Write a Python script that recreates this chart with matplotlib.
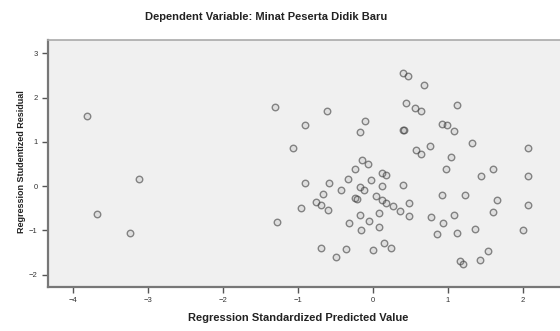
import numpy as np
import matplotlib.pyplot as plt

plt.rcParams['font.family'] = ['Liberation Sans', 'DejaVu Sans']

# predicted (standardized) values and studentized residuals
pred = [-3.81, -3.12, -3.67, -3.23,
        -1.30, -0.61, -0.90, -1.06, -0.10, -0.17, 0.40, 0.47, 0.68, 0.44,
        0.56, 0.64, 1.12, 0.41, 0.42, 0.93, 0.99, 1.08, 1.32, 0.58,
        0.64, 0.76, 2.07, 1.04, 0.98, 1.61, 1.45, 2.07, -0.14, -0.06,
        -0.24, 0.13, 0.18, -0.90, -0.58, -0.33, -0.02, 0.40, -0.66, -0.42,
        -0.17, -0.12, 0.12, -0.24, -0.21, -0.76, -0.69, -0.60, -0.95, 0.05,
        0.12, 0.18, 0.27, 0.36, 0.48, 0.48, 0.93, 1.23, 1.66, 2.07,
        1.60, 0.78, 1.08, 0.94, -1.27, -0.17, 0.09, -0.31, -0.05, -0.15,
        0.09, 0.86, 1.13, 1.36, 2.00, -0.69, -0.49, -0.35, 0.00, 0.15,
        0.25, 1.54, 1.17, 1.21, 1.43]
resid = [1.58, 0.15, -0.62, -1.07,
         1.78, 1.70, 1.38, 0.87, 1.47, 1.23, 2.55, 2.49, 2.29, 1.88,
         1.76, 1.70, 1.83, 1.26, 1.27, 1.40, 1.37, 1.25, 0.98, 0.81,
         0.73, 0.91, 0.87, 0.66, 0.38, 0.38, 0.23, 0.23, 0.59, 0.49,
         0.38, 0.30, 0.25, 0.08, 0.08, 0.15, 0.14, 0.02, -0.17, -0.09,
         -0.02, -0.09, 0.00, -0.26, -0.30, -0.35, -0.42, -0.54, -0.49, -0.23,
         -0.32, -0.38, -0.45, -0.56, -0.38, -0.67, -0.20, -0.20, -0.32, -0.42,
         -0.58, -0.70, -0.66, -0.84, -0.82, -0.65, -0.60, -0.83, -0.79, -0.99,
         -0.92, -1.09, -1.05, -0.98, -0.99, -1.40, -1.60, -1.43, -1.45, -1.29,
         -1.41, -1.46, -1.70, -1.77, -1.67]

xticks = [-4, -3, -2, -1, 0, 1, 2]
yticks = [-2, -1, 0, 1, 2, 3]

fig = plt.figure(figsize=(5.6, 3.31), dpi=100)
ax = fig.add_axes([0.0857, 0.133, 0.95, 0.746])
ax.set_facecolor('#f0f0f0')

ax.scatter(pred, resid, s=22, facecolors=(0.5, 0.5, 0.5, 0.15),
           edgecolors=(0.25, 0.25, 0.25, 0.6), linewidths=1.0)

ax.set_xlim(-4.33, -4.33 + 0.95 * 560 / 75)
ax.set_ylim(-2.28, 3.30)
ax.set_xticks(xticks)
ax.set_yticks(yticks)
ax.tick_params(labelsize=5.5, length=4, width=1, color='#555555', labelcolor='#333333')

for side in ['left', 'bottom']:
    ax.spines[side].set_color('#777777')
    ax.spines[side].set_linewidth(1.6)
ax.spines['top'].set_color('#aaaaaa')
ax.spines['top'].set_linewidth(1.2)
ax.spines['right'].set_visible(False)

fig.text(266 / 560, 1 - 17 / 331, 'Dependent Variable: Minat Peserta Didik Baru',
         ha='center', va='center', fontsize=8, fontweight='bold', color='#222222')
fig.text(298 / 560, 1 - 318 / 331, 'Regression Standardized Predicted Value',
         ha='center', va='center', fontsize=8, fontweight='bold', color='#222222')
fig.text(22 / 560, 1 - 162 / 331, 'Regression Studentized Residual',
         ha='center', va='center', rotation=90, fontsize=6.5, fontweight='bold', color='#222222')

fig.savefig('out.png', dpi=100, facecolor='white')
